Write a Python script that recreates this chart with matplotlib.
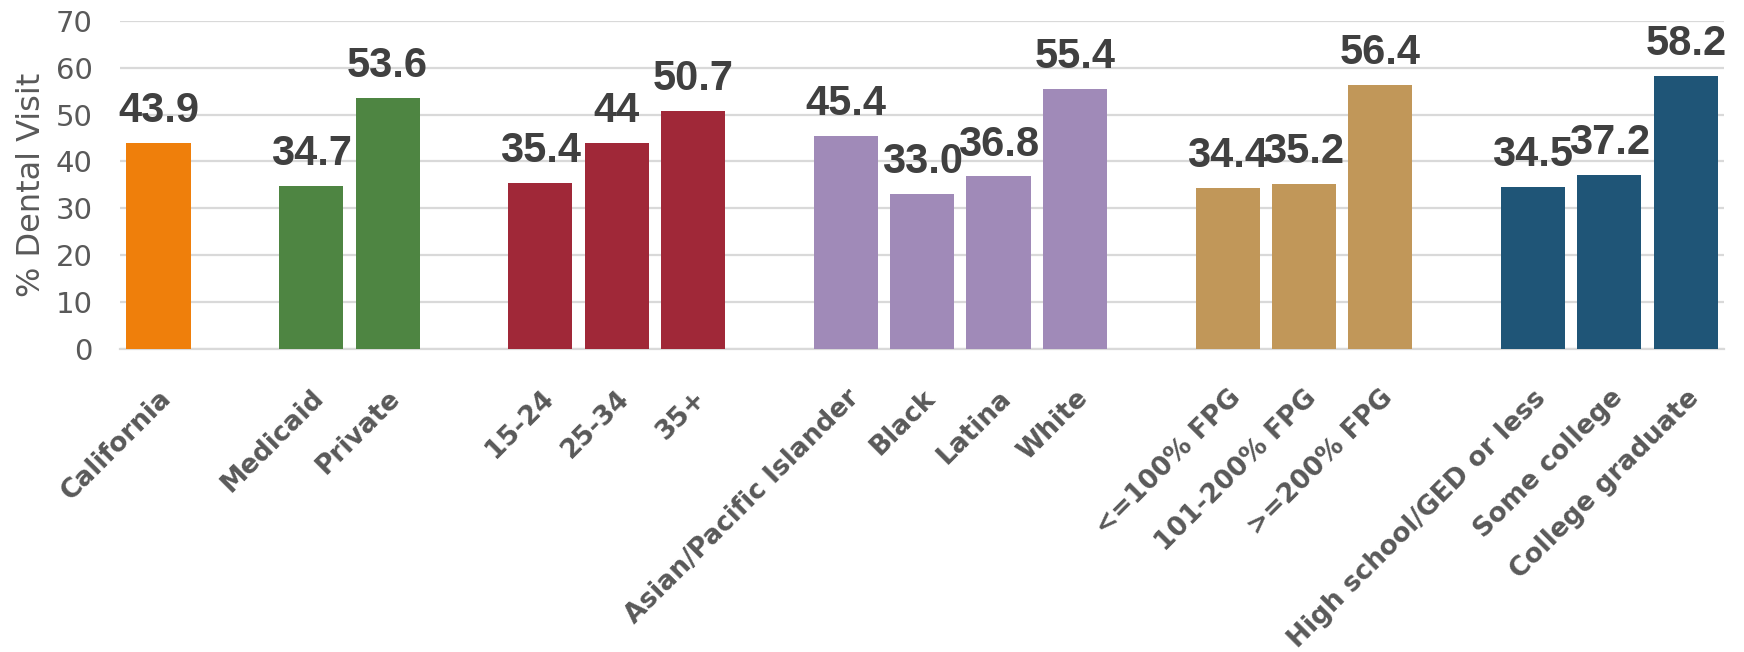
import matplotlib
matplotlib.use("Agg")
import matplotlib.pyplot as plt
import matplotlib.transforms as mtransforms

# ---- data ----
group_names = ["Overall", "Insurance", "Age", "Race/Ethnicity", "Income", "Education"]
group_categories = [
    ["California"],
    ["Medicaid", "Private"],
    ["15-24", "25-34", "35+"],
    ["Asian/Pacific Islander", "Black", "Latina", "White"],
    ["<=100% FPG", "101-200% FPG", ">=200% FPG"],
    ["High school/GED or less", "Some college", "College graduate"],
]
group_values = [
    [43.9],
    [34.7, 53.6],
    [35.4, 44.0, 50.7],
    [45.4, 33.0, 36.8, 55.4],
    [34.4, 35.2, 56.4],
    [34.5, 37.2, 58.2],
]
group_labels = [
    ["43.9"],
    ["34.7", "53.6"],
    ["35.4", "44", "50.7"],
    ["45.4", "33.0", "36.8", "55.4"],
    ["34.4", "35.2", "56.4"],
    ["34.5", "37.2", "58.2"],
]
group_colors = ["#EF7F0B", "#4E8542", "#A02838", "#A08AB8", "#C19759", "#1F5577"]
y_ticks = [0, 10, 20, 30, 40, 50, 60, 70]
y_label = "% Dental Visit"

# ---- figure ----
fig = plt.figure(figsize=(17.44, 6.52), dpi=100)
ax = fig.add_axes([0.069, 0.465, 0.9195, 0.503])

positions, cats, vals, labs, cols = [], [], [], [], []
pos = 0
for gi, (gc, gv, gl) in enumerate(zip(group_categories, group_values, group_labels)):
    for c, v, l in zip(gc, gv, gl):
        positions.append(pos)
        cats.append(c)
        vals.append(v)
        labs.append(l)
        cols.append(group_colors[gi])
        pos += 1
    pos += 1  # gap slot between groups
n_slots = pos - 1

bars = ax.bar(positions, vals, width=0.84, color=cols, zorder=3)

for b, l in zip(bars, labs):
    ax.annotate(l, (b.get_x() + b.get_width() / 2, b.get_height()),
                xytext=(0, 15), textcoords="offset points",
                ha="center", va="baseline", fontsize=30, fontweight="bold",
                color="#404040", family=["Liberation Sans", "DejaVu Sans"], zorder=4)

ax.set_xlim(-0.5, n_slots - 0.5)
ax.set_ylim(0, 70)
ax.set_yticks(y_ticks)
ax.set_xticks(positions)
ax.set_xticklabels(cats, rotation=45, ha="right", rotation_mode="anchor",
                   fontsize=19, fontweight="bold", color="#595959")
offset = mtransforms.ScaledTranslation(-11 / 72, 0, fig.dpi_scale_trans)
for t in ax.get_xticklabels():
    t.set_transform(t.get_transform() + offset)
for t in ax.get_yticklabels():
    t.set_fontsize(21)
    t.set_color("#595959")
ax.tick_params(axis="both", length=0)
ax.tick_params(axis="y", pad=20)
ax.tick_params(axis="x", pad=26)

ax.set_ylabel(y_label, fontsize=23, color="#595959", labelpad=6)

ax.grid(axis="y", color="#D9D9D9", linewidth=1.6, zorder=0)
for s in ["top", "right", "left"]:
    ax.spines[s].set_visible(False)
ax.spines["bottom"].set_color("#D9D9D9")
ax.spines["bottom"].set_linewidth(1.6)
ax.set_axisbelow(True)

fig.savefig("out.png", dpi=100, facecolor="white")
